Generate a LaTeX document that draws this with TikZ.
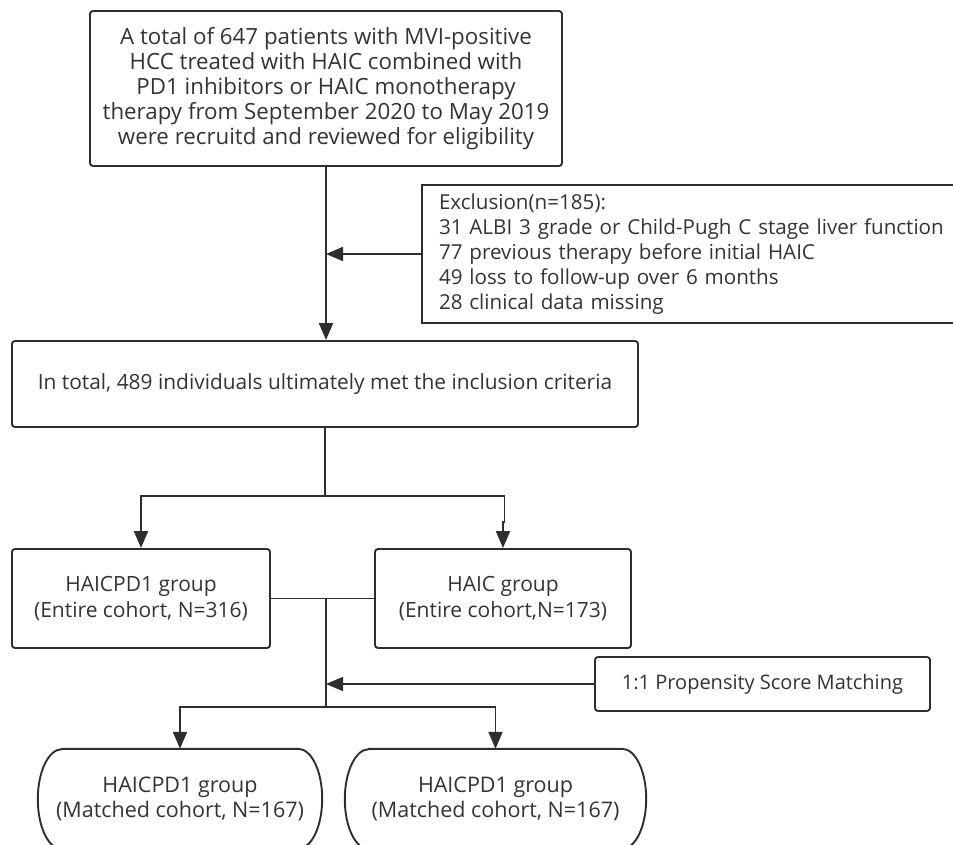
\documentclass[tikz,border=0pt]{standalone}
\usepackage{fontspec}
\setmainfont{Open Sans}
\usetikzlibrary{arrows.meta}
\definecolor{ln}{HTML}{2E2E2E}
\definecolor{tx}{HTML}{333333}
\begin{document}
\begin{tikzpicture}[x=1pt,y=-1pt,
  txt/.style={text=tx,font=\fontsize{21}{25}\selectfont},
  box/.style={txt,draw=ln,line width=1.9pt,rounded corners=3pt,align=center,inner sep=0pt},
  sqbox/.style={txt,draw=ln,line width=1.9pt,align=left,inner ysep=0pt,inner xsep=17pt},
  pill/.style={txt,align=center,inner sep=0pt},
  conn/.style={draw=ln,line width=1.9pt},
  arr/.style={conn,-{Triangle[length=17pt,width=14pt]}}
]
\useasboundingbox (0,0) rectangle (953,844);

\node[box,minimum width=472pt,minimum height=155pt,font=\fontsize{22.3}{25}\selectfont] (b1) at (326,88.5)
  {A total of 647 patients with MVI-positive\\HCC treated with HAIC combined with\\PD1 inhibitors or HAIC monotherapy\\therapy from September 2020 to May 2019\\were recruitd and reviewed for eligibility};

\node[sqbox,text width=505pt,minimum height=138pt,font=\fontsize{20.6}{25}\selectfont] (excl) at (691.5,254)
  {Exclusion(n=185):\\31 ALBI 3 grade or Child-Pugh C stage liver function\\77 previous therapy before initial HAIC\\49 loss to follow-up over 6 months\\28 clinical data missing};

\node[box,minimum width=626pt,minimum height=86pt,font=\fontsize{20.9}{25}\selectfont] (b2) at (325,384)
  {In total, 489 individuals ultimately met the inclusion criteria};

\node[box,minimum width=258pt,minimum height=99pt,font=\fontsize{21}{26}\selectfont] (b3) at (141,598.5)
  {HAICPD1 group\\(Entire cohort, N=316)};
\node[box,minimum width=256pt,minimum height=99pt,font=\fontsize{21}{26}\selectfont] (b4) at (503,598.5)
  {HAIC group\\(Entire cohort,N=173)};

\node[box,minimum width=335pt,minimum height=54pt,font=\fontsize{20}{25}\selectfont] (psm) at (762.5,684)
  {1:1 Propensity Score Matching};

\node[pill,minimum width=284pt,minimum height=100pt,font=\fontsize{21.5}{25}\selectfont] (b5) at (180,799)
  {HAICPD1 group\\(Matched cohort, N=167)};
\node[pill,minimum width=301pt,minimum height=100pt,font=\fontsize{21.5}{25}\selectfont] (b6) at (495.5,799)
  {HAICPD1 group\\(Matched cohort, N=167)};

\foreach \n in {b5,b6}{
  \draw[conn] ([xshift=24pt]\n.north west) -- ([xshift=-24pt]\n.north east)
    arc[start angle=90,end angle=-90,x radius=24pt,y radius=50pt]
    -- ([xshift=24pt]\n.south west)
    arc[start angle=270,end angle=90,x radius=24pt,y radius=50pt] -- cycle;
}

% connectors
\coordinate (j1) at (b1.south |- excl.west);
\draw[arr] (b1.south) -- (b1.south |- b2.north);
\draw[arr] (excl.west) -- (j1);

\coordinate (s1) at (325,496);
\draw[conn] (b2.south) -- (s1);
\draw[arr] (s1) -| (b3.north);
\coordinate (k1) at (504.5,522);
\draw[conn] (s1) -| (k1);
\draw[arr] (k1) -| (b4.north);

\draw[conn] (b3.east) -- (b4.west);
\coordinate (m1) at (326,598.5);
\coordinate (s2) at (326,707);
\draw[conn] (m1) -- (s2);
\draw[arr] (psm.west) -- (psm.west -| m1);
\draw[arr] (s2) -| (b5.north);
\draw[arr] (s2) -| (b6.north);
\end{tikzpicture}
\end{document}
